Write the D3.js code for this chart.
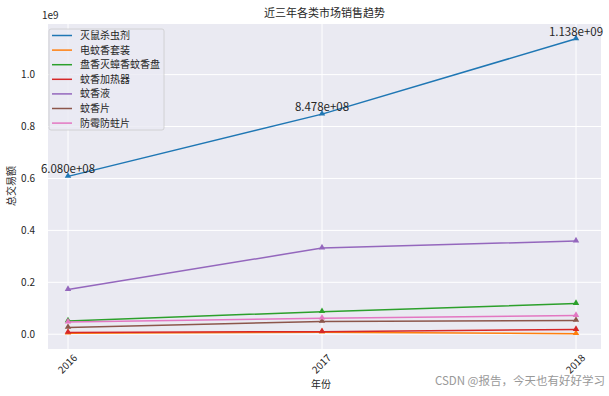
<!DOCTYPE html>
<html>
<head>
<meta charset="utf-8">
<script src="https://cdn.jsdelivr.net/npm/d3@7"></script>
<style>
body{margin:0;background:#fff;}
text{font-family:"Noto Sans CJK SC","DejaVu Sans",sans-serif;}
</style>
</head>
<body>
<svg id="chart" width="609" height="396"></svg>
<script>
// data ------------------------------------------
var years = ['2016','2017','2018'];
var categories = ['灭鼠杀虫剂','电蚊香套装','盘香灭蟑香蚊香盘','蚊香加热器','蚊香液','蚊香片','防霉防蛀片'];
var colors = ['#1f77b4','#ff7f0e','#2ca02c','#d62728','#9467bd','#8c564b','#e377c2'];
var mieshu = [6.080e8, 8.478e8, 1.138e9];
var dianwenxiang = [4e6, 8e6, 2e6];
var panxiang = [5.1e7, 8.7e7, 1.18e8];
var jiareqi = [7e6, 1.0e7, 1.8e7];
var wenxiangye = [1.72e8, 3.32e8, 3.59e8];
var wenxiangpian = [2.6e7, 4.9e7, 5.3e7];
var fangmei = [4.7e7, 6.2e7, 7.2e7];
var yTicks = [0, 0.2e9, 0.4e9, 0.6e9, 0.8e9, 1.0e9];

var series = [mieshu, dianwenxiang, panxiang, jiareqi, wenxiangye, wenxiangpian, fangmei];

var svg = d3.select('#chart');
var pLeft = 48, pRight = 601, pTop = 24, pBottom = 349;

var xScale = d3.scalePoint().domain(years).range([68, 576]);
var yScale = d3.scaleLinear().domain([-0.0569e9, 1.1949e9]).range([pBottom, pTop]);

svg.append('rect')
.attr('x', pLeft).attr('y', pTop)
.attr('width', pRight-pLeft).attr('height', pBottom-pTop)
.attr('fill', '#eaeaf2');

// grid
svg.append('g').selectAll('line').data(yTicks).enter().append('line')
.attr('x1', pLeft).attr('x2', pRight)
.attr('y1', d=>yScale(d)).attr('y2', d=>yScale(d))
.attr('stroke', '#fff').attr('stroke-width', 1);

svg.append('g').selectAll('line').data(years).enter().append('line')
.attr('y1', pTop).attr('y2', pBottom)
.attr('x1', d=>xScale(d)).attr('x2', d=>xScale(d))
.attr('stroke', '#fff').attr('stroke-width', 1);

// axes
var yAxis = d3.axisLeft(yScale).tickValues(yTicks).tickSize(0).tickPadding(13)
.tickFormat(d=>(d/1e9).toFixed(1));
var gy = svg.append('g').attr('transform', 'translate('+pLeft+',0)').call(yAxis);
gy.select('.domain').remove();
gy.selectAll('text').attr('fill', '#262626').style('font-size', '10px')
.style('font-family', '"Noto Sans CJK SC",sans-serif');

var xAxis = d3.axisBottom(xScale).tickSize(0).tickPadding(0);
var gx = svg.append('g').attr('transform', 'translate(0,'+pBottom+')').call(xAxis);
gx.select('.domain').remove();
gx.selectAll('text')
.attr('fill', '#262626').style('font-size', '10px')
.style('font-family', '"Noto Sans CJK SC",sans-serif')
.attr('text-anchor', 'end').attr('y', 0).attr('dy', '0.35em')
.attr('transform', 'translate(7,7) rotate(-45)');

svg.append('text').text('1e9')
.attr('x', pLeft-6).attr('y', 19)
.attr('fill', '#262626').style('font-size', '10px');

// lines
var line = d3.line().x((d,i)=>xScale(years[i])).y(d=>yScale(d));
var sym = d3.symbol().type(d3.symbolTriangle).size(18);

series.forEach(function(s, k){
	svg.append('path').datum(s)
	.attr('d', line)
	.attr('fill', 'none')
	.attr('stroke', colors[k])
	.attr('stroke-width', 1.5);

	svg.append('g').selectAll('path').data(s).enter().append('path')
	.attr('d', sym)
	.attr('transform', (d,i)=>'translate('+xScale(years[i])+','+(yScale(d)-0.5)+')')
	.attr('fill', colors[k]);
});

// labels on first series
function sci(v){
	var e = Math.floor(Math.log10(v));
	var m = (v/Math.pow(10,e)).toFixed(3);
	return m + 'e+' + (e<10 ? '0'+e : e);
}
svg.append('g').selectAll('text').data(mieshu).enter().append('text')
.text(d=>sci(d))
.attr('x', (d,i)=>xScale(years[i]))
.attr('y', d=>yScale(d)-3)
.attr('text-anchor', 'middle')
.attr('fill', '#262626')
.style('font-size', '11.5px');

// legend
var lg = svg.append('g').attr('transform', 'translate(49,29)');
lg.append('rect')
.attr('width', 115).attr('height', 101).attr('rx', 2)
.attr('fill', '#eaeaf2').attr('fill-opacity', 0.8)
.attr('stroke', '#cccccc').attr('stroke-width', 0.8);
var items = lg.selectAll('g.item').data(categories).enter().append('g')
.attr('transform', (d,i)=>'translate(0,'+(6.5+i*14.6)+')');
items.append('line')
.attr('x1', 3).attr('x2', 23)
.attr('stroke', (d,i)=>colors[i]).attr('stroke-width', 1.5);
items.append('text').text(d=>d)
.attr('x', 31).attr('dy', '0.35em')
.attr('fill', '#262626').style('font-size', '10px');

// titles
svg.append('text').text('近三年各类市场销售趋势')
.attr('x', (pLeft+pRight)/2).attr('y', 17)
.attr('text-anchor', 'middle')
.attr('fill', '#262626').style('font-size', '11px');

svg.append('text').text('年份')
.attr('x', 321).attr('y', 388)
.attr('text-anchor', 'middle')
.attr('fill', '#262626').style('font-size', '10px');

svg.append('text').text('总交易额')
.attr('transform', 'translate(15,186) rotate(-90)')
.attr('text-anchor', 'middle')
.attr('fill', '#262626').style('font-size', '10px');

svg.append('text').text('CSDN @报告，今天也有好好学习')
.attr('x', 605).attr('y', 385)
.attr('text-anchor', 'end')
.attr('fill', '#999999').style('font-size', '11.5px');
</script>
</body>
</html>
